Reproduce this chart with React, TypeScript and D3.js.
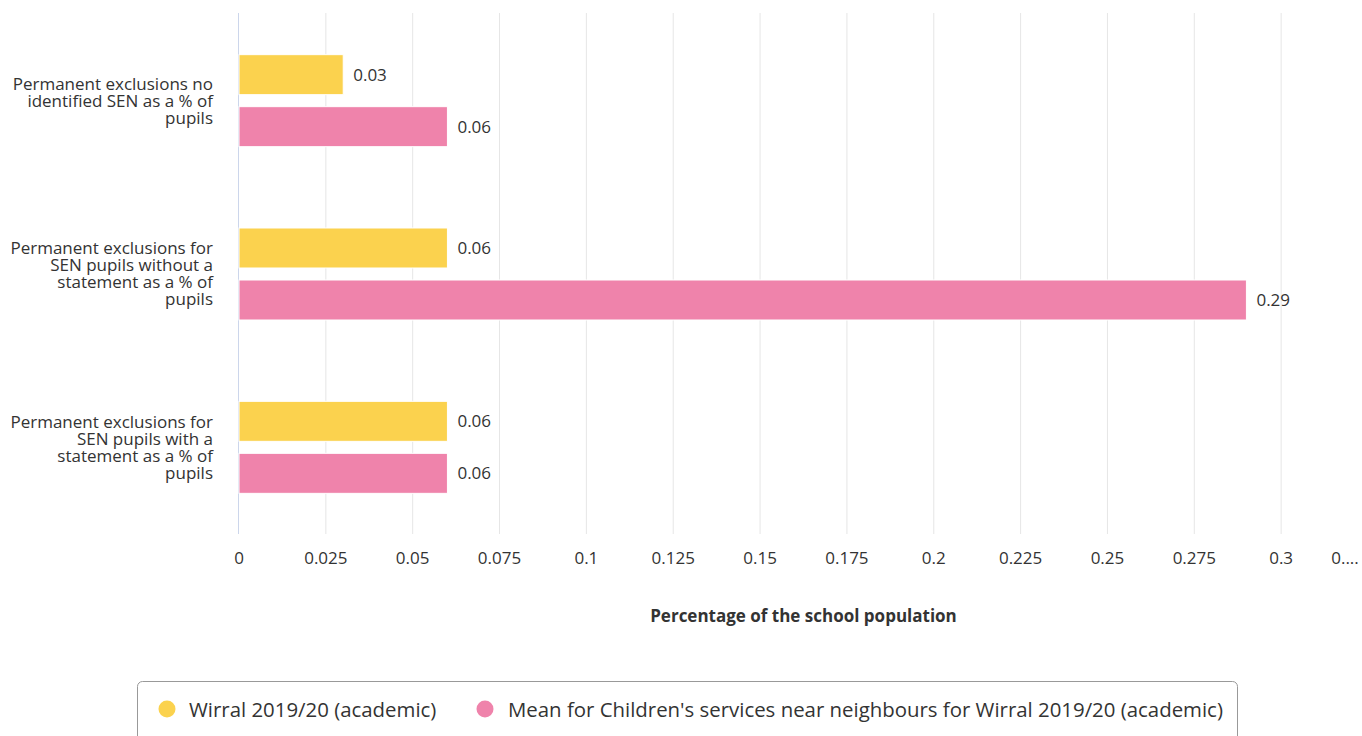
import React from "react";
import * as d3 from "d3";

const categories: string[][] = [
  ["Permanent exclusions no", "identified SEN as a % of", "pupils"],
  ["Permanent exclusions for", "SEN pupils without a", "statement as a % of", "pupils"],
  ["Permanent exclusions for", "SEN pupils with a", "statement as a % of", "pupils"],
];
const seriesNames = [
  "Wirral 2019/20 (academic)",
  "Mean for Children's services near neighbours for Wirral 2019/20 (academic)",
];
const wirralValues = [0.03, 0.06, 0.06];
const meanValues = [0.06, 0.29, 0.06];
const tickValues = [0, 0.025, 0.05, 0.075, 0.1, 0.125, 0.15, 0.175, 0.2, 0.225, 0.25, 0.275, 0.3, 0.325];
const tickLabels = ["0", "0.025", "0.05", "0.075", "0.1", "0.125", "0.15", "0.175", "0.2", "0.225", "0.25", "0.275", "0.3", "0...."];
const axisTitle = "Percentage of the school population";

const colors = ["#FBD24E", "#EF83AB"];
const FONT = "'Open Sans', sans-serif";

export default function App() {
  const W = 1375;
  const H = 736;
  const plotLeft = 239;
  const plotRight = 1368;
  const plotTop = 14;
  const plotBottom = 534;

  const x = d3.scaleLinear().domain([0, 0.325]).range([plotLeft, plotRight]);
  const y0 = d3.scaleBand<number>().domain(categories.map((_, i) => i)).range([plotTop, plotBottom]).paddingInner(0).paddingOuter(0);
  const bw = y0.bandwidth();
  const y1 = d3.scaleBand<number>().domain([0, 1]).range([bw * 0.2346, bw * 0.7654]).paddingInner(12 / 52).paddingOuter(0);
  const series = [wirralValues, meanValues];
  const fmt = (v: number) => String(v);

  return (
    <div style={{ position: "absolute", left: 0, top: 0, width: 1362, height: 736, overflow: "hidden", background: "#fff" }}>
      <svg width={W} height={H} style={{ display: "block", fontFamily: FONT }}>
        {tickValues.slice(1).map((t) => (
          <line key={t} x1={x(t)} x2={x(t)} y1={plotTop - 1} y2={plotBottom} stroke="#e6e6e6" strokeWidth={1} />
        ))}
        <line x1={plotLeft - 0.5} x2={plotLeft - 0.5} y1={plotTop - 1} y2={plotBottom} stroke="#ccd6eb" strokeWidth={1} />
        {categories.map((lines, ci) => {
          const cy = (y0(ci) as number) + bw / 2;
          const lh = 17;
          const start = cy - ((lines.length - 1) * lh) / 2;
          return (
            <text key={ci} textAnchor="end" fontSize={17} fill="#333">
              {lines.map((l, li) => (
                <tspan key={li} x={213} y={start + li * lh} dy="0.35em">{l}</tspan>
              ))}
            </text>
          );
        })}
        {series.map((vals, si) =>
          vals.map((v, ci) => {
            const yy = (y0(ci) as number) + (y1(si) as number);
            const h = y1.bandwidth();
            return (
              <g key={`${si}-${ci}`}>
                <rect x={x(0)} y={yy} width={x(v) - x(0)} height={h} fill={colors[si]} stroke="#fff" strokeWidth={1} />
                <text x={x(v) + 10} y={yy + h / 2} dy="0.35em" fontSize={17} fill="#333">{fmt(v)}</text>
              </g>
            );
          })
        )}
        {tickValues.map((t, i) => {
          const px = Math.min(x(t), 1345);
          return (
            <text key={t} x={px} y={558} dy="0.35em" textAnchor="middle" fontSize={17} fill="#333">{tickLabels[i]}</text>
          );
        })}
        <text x={(plotLeft + plotRight) / 2} y={616} dy="0.35em" textAnchor="middle" fontSize={17} fontWeight="bold" fill="#333">{axisTitle}</text>
        <rect x={137.5} y={681.5} width={1100} height={70} rx={5} ry={5} fill="#fff" stroke="#999" strokeWidth={1} />
        <g>
          <circle cx={167} cy={709} r={8.5} fill={colors[0]} />
          <text x={189} y={710} dy="0.35em" fontSize={20.4} fill="#333">{seriesNames[0]}</text>
          <circle cx={485} cy={709} r={8.5} fill={colors[1]} />
          <text x={508} y={710} dy="0.35em" fontSize={20.4} fill="#333">{seriesNames[1]}</text>
        </g>
      </svg>
    </div>
  );
}
